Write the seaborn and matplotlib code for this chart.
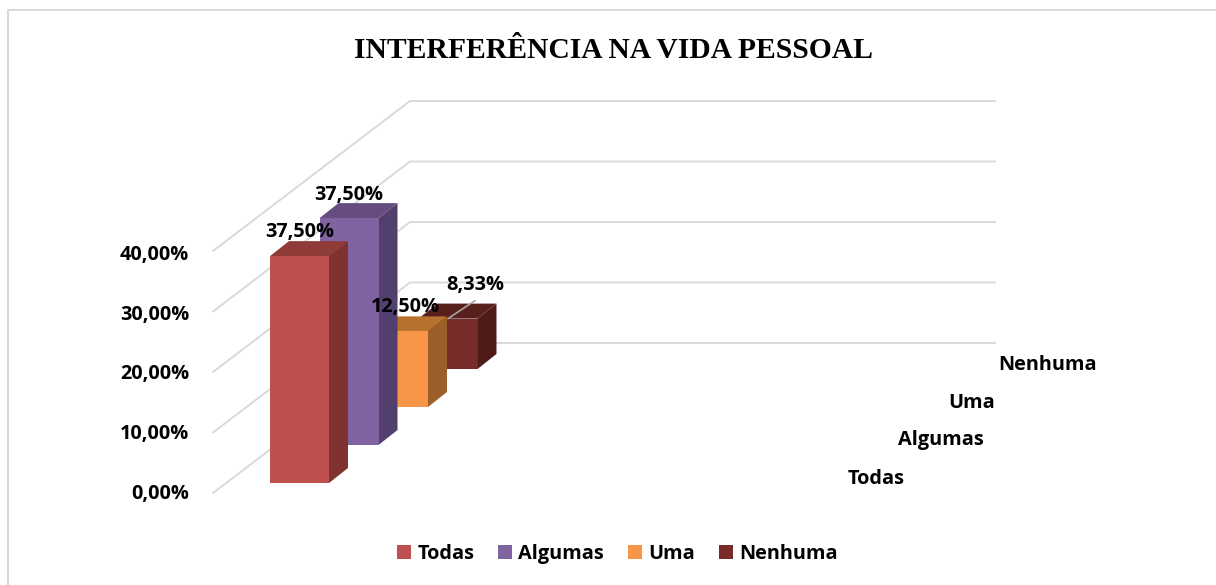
"""INTERFERENCIA NA VIDA PESSOAL - fake 3D bars, drawn on a px-wide x axis."""
import matplotlib
matplotlib.use("Agg")
import matplotlib.pyplot as plt
from matplotlib.patches import Patch
import pandas as pd
import seaborn as sns

categories = ["Todas", "Algumas", "Uma", "Nenhuma"]
values = [37.50, 37.50, 12.50, 8.33]
ticks = [0, 10, 20, 30, 40]

front_colors = ["#C0504D", "#8064A2", "#F79646", "#772C2A"]
side_colors = ["#7F322F", "#533F6E", "#9C5F2A", "#4F1B19"]
top_colors = ["#8F3B38", "#654D80", "#B8722F", "#591F1D"]

sns.set_theme(style="white")
plt.rcParams["font.family"] = ["Open Sans", "DejaVu Sans"]

W, H = 1216, 585
PX = 6.05            # pixels per percentage point
BASE_Y = 483         # pixel row of value 0 for the first bar
GRID = "#d9d9d9"
TEXT_SIZE = 14.3


def to_val(py):
    return (BASE_Y - py) / PX


fig = plt.figure(figsize=(W / 100, H / 100), dpi=100)
ax = fig.add_axes([0, 0, 1, 1])
ax.set_xlim(0, W)
ax.set_ylim(to_val(H), to_val(0))

# outer chart frame, left and top only
ax.plot([8, 8, W], [to_val(H), to_val(10), to_val(10)], color=GRID, lw=1.5, zorder=1)

# walls: diagonal on the side wall then flat along the back
for t in ticks:
    ax.plot([213, 410, 995],
            [t + to_val(493), t + to_val(343), t + to_val(343)],
            color=GRID, lw=1.4, zorder=1)
    ax.text(189, t * 0.988 + to_val(494), f"{t:.2f}%".replace(".", ","),
            ha="right", va="center", fontsize=TEXT_SIZE, fontweight="bold", color="black")

# one call per bar, back to front, so nearer bars cover further ones
dx_step, dy_step = 49.5, 38 / PX
dx_side, dy_side = 19, 15 / PX
zbase = 2
for i in reversed(range(len(categories))):
    df = pd.DataFrame({"x": [270 + 29.5 + i * dx_step], "y": [values[i]]})
    z = zbase + (len(categories) - i)
    sns.barplot(data=df, x="x", y="y", native_scale=True, width=59, errorbar=None,
                color=front_colors[i], saturation=1, bottom=i * dy_step,
                linewidth=0, zorder=z + 0.2, ax=ax)
    bar = ax.patches[-1]
    x0, x1 = bar.get_x(), bar.get_x() + bar.get_width()
    y0, y1 = bar.get_y(), bar.get_y() + bar.get_height()
    ax.fill([x1, x1 + dx_side, x1 + dx_side, x1],
            [y0, y0 + dy_side, y1 + dy_side, y1],
            color=side_colors[i], lw=0, zorder=z)
    ax.fill([x0, x0 + dx_side, x1 + dx_side, x1],
            [y1, y1 + dy_side, y1 + dy_side, y1],
            color=top_colors[i], lw=0, zorder=z)

# value labels, placed relative to the middle of each bar's top edge
label_offsets = [(0, 24), (0, 23), (7, 24), (27, 34)]
for i, (v, off) in enumerate(zip(values, label_offsets)):
    xc = 270 + 29.5 + i * dx_step
    ytop = v + i * dy_step
    ax.annotate(f"{v:.2f}%".replace(".", ","), (xc, ytop), xytext=off,
                textcoords="offset pixels", ha="center", va="center",
                fontsize=TEXT_SIZE, fontweight="bold", color="black", zorder=20)

# leader line of the last label
xc = 270 + 29.5 + 3 * dx_step
ytop = values[3] + 3 * dy_step
ax.plot([xc, xc + 27], [ytop, ytop + 18 / PX], color="#a6a6a6", lw=1.2, zorder=19)

# depth axis labels
for i, name in enumerate(categories):
    ax.text(848 + i * 50, to_val(478.5) + i * dy_step, name, ha="left", va="center",
            fontsize=TEXT_SIZE, fontweight="bold", color="black")

ax.text(613, to_val(50), "INTERFERÊNCIA NA VIDA PESSOAL", ha="center", va="center",
        fontsize=21.3, fontweight="bold", family="Liberation Serif", color="black")

handles = [Patch(facecolor=c, edgecolor="none", label=n) for c, n in zip(front_colors, categories)]
ax.legend(handles=handles, ncol=4, frameon=False, loc="center",
          bbox_to_anchor=(617.5 / W, 1 - 554 / H), handlelength=0.7, handleheight=0.7,
          handletextpad=0.3, columnspacing=1.22, labelcolor="black",
          prop={"size": TEXT_SIZE, "weight": "bold"})

ax.set_xlabel("")
ax.set_ylabel("")
ax.set_xlim(0, W)
ax.set_ylim(to_val(H), to_val(0))
ax.set_xticks([])
ax.set_yticks([])
sns.despine(ax=ax, left=True, bottom=True)

fig.savefig("out.png", dpi=100, facecolor="white")
